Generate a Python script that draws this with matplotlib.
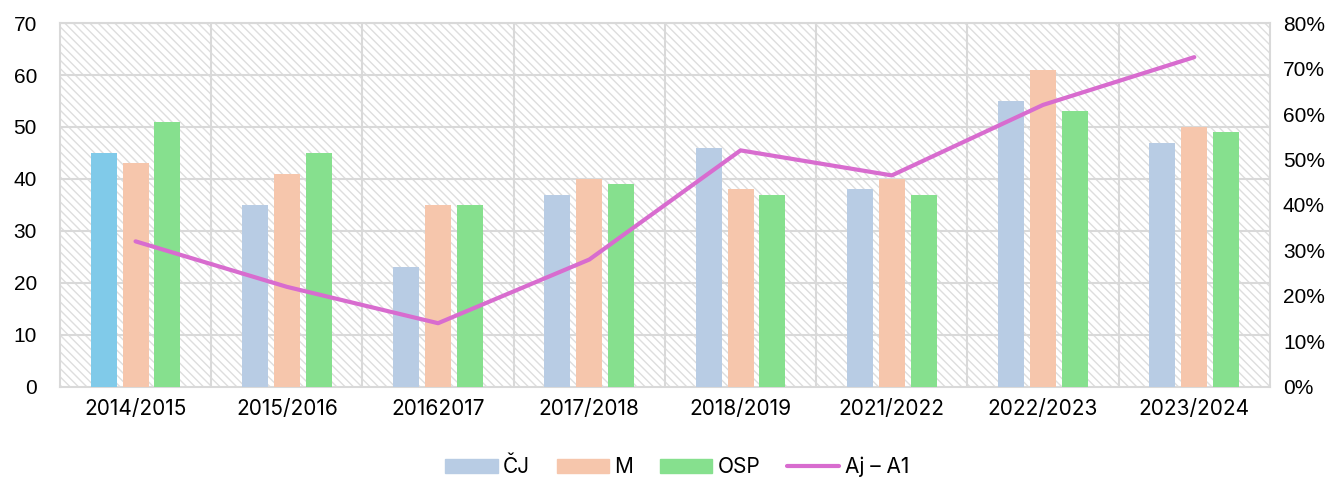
import numpy as np
import matplotlib.pyplot as plt
from matplotlib.patches import Patch
from matplotlib.lines import Line2D

plt.rcParams['font.family'] = ['Inter', 'DejaVu Sans']

years = ['2014/2015', '2015/2016', '20162017', '2017/2018', '2018/2019',
         '2021/2022', '2022/2023', '2023/2024']
cj = [45, 35, 23, 37, 46, 38, 55, 47]
m = [43, 41, 35, 40, 38, 40, 61, 50]
osp = [51, 45, 35, 39, 37, 37, 53, 49]
aj = [32, 22, 14, 28, 52, 46.5, 62, 72.5]  # %

c_cj = '#B8CCE4'
c_cj_first = '#80CAE9'
c_m = '#F6C6AC'
c_osp = '#86E08E'
c_line = '#D86CCF'
c_grid = '#D9D9D9'
fs = 15

fig = plt.figure(figsize=(13.41, 4.8), dpi=100)
ax = fig.add_axes([0.0447, 0.194, 0.9023, 0.758])
ax.patch.set_facecolor('white')
ax.patch.set_hatch('\\\\\\\\')
ax.patch.set_edgecolor('#DEDEDE')
plt.rcParams['hatch.linewidth'] = 1.0

x = np.arange(len(years))
off = 0.211
w = 0.172
cols = [c_cj_first] + [c_cj] * (len(years) - 1)
ax.bar(x - off, cj, w, color=cols, zorder=3)
ax.bar(x, m, w, color=c_m, zorder=3)
ax.bar(x + off, osp, w, color=c_osp, zorder=3)

ax.set_xlim(-0.5, len(years) - 0.5)
ax.set_ylim(0, 70)
ax.set_yticks(range(0, 71, 10))
ax.set_xticks(x)
ax.set_xticklabels(years, fontsize=fs)
ax.tick_params(axis='y', labelsize=fs, length=0, pad=16.5)
ax.tick_params(axis='x', length=0, pad=9)
for lab in ax.get_yticklabels():
    lab.set_family(['Liberation Sans', 'DejaVu Sans'])

for yv in range(10, 71, 10):
    ax.axhline(yv, color=c_grid, lw=1.5, zorder=1)
for xv in np.arange(0.5, len(years) - 0.5, 1):
    ax.axvline(xv, color=c_grid, lw=1.5, zorder=1)
for s in ax.spines.values():
    s.set_color(c_grid)
    s.set_linewidth(1.5)

ax2 = ax.twinx()
ax2.plot(x, aj, color=c_line, lw=3, solid_capstyle='round', zorder=4)
ax2.set_ylim(0, 80)
ax2.set_yticks(range(0, 81, 10))
ax2.set_yticklabels([f'{v}%' for v in range(0, 81, 10)])
ax2.tick_params(axis='y', labelsize=fs, length=0, pad=9.4)
for lab in ax2.get_yticklabels():
    lab.set_family(['Liberation Sans', 'DejaVu Sans'])
for s in ax2.spines.values():
    s.set_visible(False)

handles = [Patch(color=c_cj, label='ČJ'), Patch(color=c_m, label='M'),
           Patch(color=c_osp, label='OSP'),
           Line2D([], [], color=c_line, lw=3, solid_capstyle='round', label='Aj – A1')]
fig.legend(handles=handles, loc='center', bbox_to_anchor=(0.505, 0.027), ncol=4,
           frameon=False, fontsize=fs, handlelength=2.5, handleheight=0.65,
           columnspacing=1.3, handletextpad=0.25)

fig.savefig('out.png', dpi=100)
